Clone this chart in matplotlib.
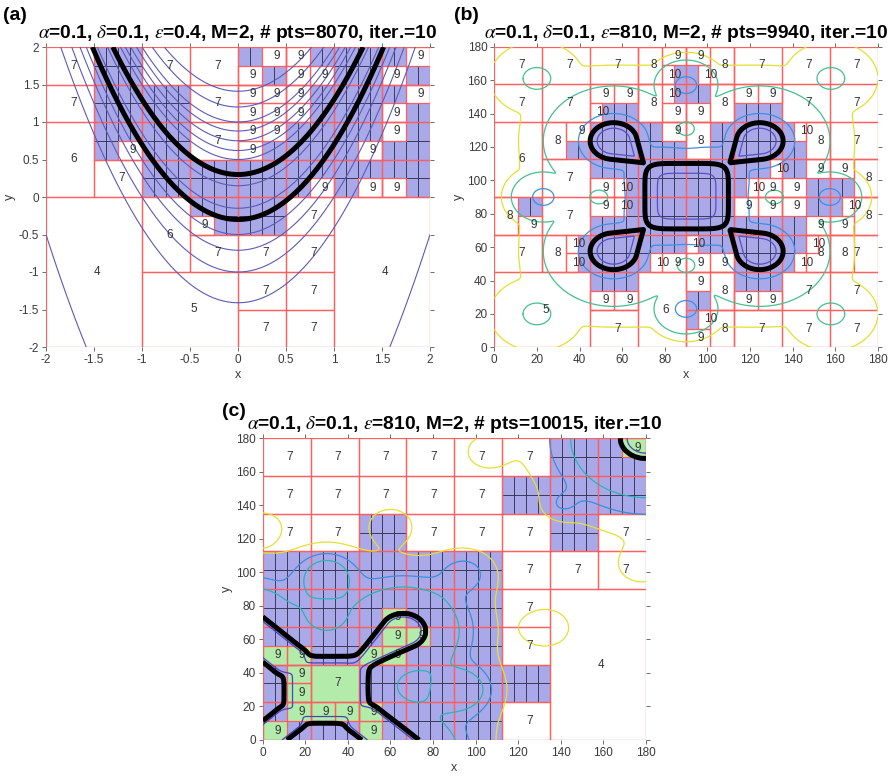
import numpy as np
import matplotlib.pyplot as plt
from matplotlib.patches import Rectangle

plt.rcParams['font.family'] = ['Liberation Sans', 'DejaVu Sans']
plt.rcParams['mathtext.fontset'] = 'stix'

# leaf maps: one char per finest cell, 16 rows (top row first) x 32 columns
# digit = white leaf of that level, '0' = white level-10 leaf,
# '#' = shaded level-10 leaf, 'G' = green level-9 leaf, 'H' = green level-7 leaf
cells_a = [
    "7777####77777777##9999########99",
    "7777####7777777799##9999####99##",
    "7777########7777999999########99",
    "7777########7777999999######99##",
    "6666########77779999########99##",
    "6666##99####777799########99####",
    "66667777########################",
    "66667777##############99##9999##",
    "444444446666########777744444444",
    "44444444666699######777744444444",
    "44444444666677777777777744444444",
    "44444444666677777777777744444444",
    "44444444555555557777777744444444",
    "44444444555555557777777744444444",
    "44444444555555557777777744444444",
    "44444444555555557777777744444444",
]
cells_b = [
    "777777777777" "88999988" "777777777777",
    "777777777777" "880##088" "777777777777",
    "77777777" "9999880###889999" "77777777",
    "77777777" "0###88999988####" "77777777",
    "6666" "8899######9988#######088" "7777",
    "6666" "88##########88########88" "7777",
    "66667777" "##############" "#0##999988",
    "66667777" "990#" "########" "#09999" "####88",
    "88##7777" "990#" "########" "999999" "###088",
    "88997777" "##################" "999988",
    "7777880#" "########" "0#######" "##0888" "7777",
    "7777880#" "#####0" "999999" "####" "#088" "7777",
    "55555555" "####" "6666" "9988" "####" "77777777",
    "55555555" "9999" "6666" "##88" "9999" "77777777",
    "55555555" "7777" "6666" "#088" "777777777777",
    "55555555" "7777" "6666" "9988" "777777777777",
]
cells_c = [
    "777777777777777777777777######GG",
    "777777777777777777777777########",
    "77777777777777777777############",
    "77777777777777777777############",
    "77777777####777777777777####7777",
    "77777777####777777777777####7777",
    "####################777777777777",
    "####################777777777777",
    "####################777744444444",
    "##########GG########777744444444",
    "##########GGGG######777744444444",
    "GGGG####GGGG########777744444444",
    "##GGHHHH################44444444",
    "##GGHHHH################44444444",
    "##GGGGGGGG##########777744444444",
    "GG######GG##########777744444444",
]

leaf_kind = {'4': (4, None), '5': (5, None), '6': (6, None), '7': (7, None),
             '8': (8, None), '9': (9, None), '0': (10, None),
             '#': (10, 'blue'), 'G': (9, 'green'), 'H': (7, 'green')}

titles = [r'$\alpha$=0.1, $\delta$=0.1, $\epsilon$=0.4, M=2, # pts=8070, iter.=10',
          r'$\alpha$=0.1, $\delta$=0.1, $\epsilon$=810, M=2, # pts=9940, iter.=10',
          r'$\alpha$=0.1, $\delta$=0.1, $\epsilon$=810, M=2, # pts=10015, iter.=10']
tags = ['(a)', '(b)', '(c)']

# panel (a): contour levels of y - x^2, black curves at +-0.3
levels_a = [-4.5, -1.41, -1.0, -0.71, -0.5, -0.15, 0.15,
            0.5, 0.62, 0.75, 0.88, 1.0, 1.2, 1.41]
black_a = [-0.3, 0.3]

# panel (b): features of the field (centre, tip) in data units
square_b = (90.3, 90.5, 19.6)
lobes_b = [(56, 123.5, 70, 110.5), (124.6, 123.5, 110.6, 110.5),
           (56, 57.5, 70, 70.5), (124.6, 57.5, 110.6, 70.5)]
lobe_r_b = 11.0
dips_b = [(23, 90), (157.5, 90), (90, 23), (90, 157)]
wells_b = [(20, 161), (158, 161), (20, 20), (158, 20)]
hills_b = [(50, 90), (130.6, 90), (90, 50), (90, 130)]
levels_b = [0.7, 1.5, 3.0, 4.0]
colors_b = ['#5a4fc0', '#3d8fe0', '#45c08e', '#e3e030']

# panel (c): square, diagonal arms (start, end, half-width), loop, corner blob
square_c = (30, 30, 20)
arms_c = [(12, 48, -8, 68, 9.5), (12, 12, -8, -8, 8), (48, 12, 68, -8, 9.5)]
loop_c = (66, 65, 35, 35, 10.5)
corner_c = (180, 180, 12)
bumps_c = [(30, 100, -0.7, 9), (95, 30, -0.7, 9), (95, 100, -0.45, 8),
           (68, 32, 0.4, 8), (30, 71, 0.4, 7), (140, 140, -0.3, 6),
           (60, 128, -0.3, 8), (106, 172, -0.3, 8), (133, 67, -0.3, 9),
           (178, 105, -0.3, 9), (0, 127, -0.3, 7)]
levels_c = [0.8, 1.6, 1.85, 2.15]
colors_c = ['#4b45b5', '#2bb3b8', '#3c8ddc', '#e6df35']

RED = '#ff5f5f'
BLUE = '#a9a9e9'
GREEN = '#b2ebaa'


def leaves(rows):
    grid = rows[::-1]
    seen, out = set(), []
    for j in range(16):
        for i in range(32):
            lvl, fill = leaf_kind[grid[j][i]]
            bw = 2 ** (5 - lvl // 2)
            bh = 2 ** (4 - (lvl - 1) // 2)
            i0, j0 = i // bw * bw, j // bh * bh
            if (i0, j0, bw, bh) in seen:
                continue
            seen.add((i0, j0, bw, bh))
            out.append((i0, j0, bw, bh, lvl, fill))
    return out


def draw_cells(ax, rows, x0, y0, size):
    dx, dy = size / 32, size / 16
    red = set()
    for i0, j0, bw, bh, lvl, fill in leaves(rows):
        rx, ry, rw, rh = x0 + i0 * dx, y0 + j0 * dy, bw * dx, bh * dy
        if fill == 'blue':
            ax.add_patch(Rectangle((rx, ry), rw, rh, facecolor=BLUE,
                                   edgecolor='#22223a', lw=0.5, zorder=1))
        else:
            if fill == 'green':
                ax.add_patch(Rectangle((rx, ry), rw, rh, facecolor=GREEN,
                                       edgecolor='none', zorder=1))
            red.add((rx, ry, rw, rh))
            ax.text(rx + rw / 2, ry + rh / 2, str(lvl), ha='left', va='center',
                    fontsize=8.5, color='#333333', zorder=4)
        if lvl >= 8:
            b7x, b7y = i0 // 4 * 4, j0 // 2 * 2
            red.add((x0 + b7x * dx, y0 + b7y * dy, 4 * dx, 2 * dy))
    for rx, ry, rw, rh in red:
        ax.add_patch(Rectangle((rx, ry), rw, rh, fill=False, edgecolor=RED,
                               lw=0.9, zorder=2))


def smin(arrs, k=0.06):
    m = np.minimum.reduce(arrs)
    return m - k * np.log(sum(np.exp(-(a - m) / k) for a in arrs))


def drop_ratio(X, Y, cx, cy, tx, ty, R):
    px, py = X - cx, Y - cy
    L = np.hypot(tx - cx, ty - cy)
    th = np.arctan2(py, px) - np.arctan2(ty - cy, tx - cx)
    th = (th + np.pi) % (2 * np.pi) - np.pi
    phi = np.arccos(R / L)
    bound = np.where(np.abs(th) < phi, R / np.cos(np.abs(th) - phi), R)
    return np.hypot(px, py) / bound


def seg_ratio(X, Y, ax0, ay0, bx, by, r):
    vx, vy = bx - ax0, by - ay0
    t = np.clip(((X - ax0) * vx + (Y - ay0) * vy) / (vx * vx + vy * vy), 0, 1)
    return np.hypot(X - ax0 - t * vx, Y - ay0 - t * vy) / r


def square_ratio(X, Y, cx, cy, hw, p=6):
    return ((np.abs(X - cx) / hw) ** p + (np.abs(Y - cy) / hw) ** p) ** (1 / p)


def style(ax, lo, hi, ticks, title):
    ax.set_xlim(lo, hi)
    ax.set_ylim(lo, hi)
    ax.set_xticks(ticks)
    ax.set_yticks(ticks)
    ax.set_xticklabels([f'{t:g}' for t in ticks])
    ax.set_yticklabels([f'{t:g}' for t in ticks])
    for s in ax.spines.values():
        s.set_visible(False)
    ax.tick_params(labelsize=8.5, labelcolor='#3a3a3a', color='#555555',
                   direction='out', length=3, width=0.6, pad=2,
                   top=True, right=True)
    ax.set_xlabel('x', fontsize=9, color='#3a3a3a', labelpad=2)
    ax.set_ylabel('y', fontsize=9, color='#3a3a3a', labelpad=2)
    ax.set_title(title, fontsize=13.8, fontweight='bold', pad=6.5)


fig = plt.figure(figsize=(8.94, 7.76), dpi=100)
ax_a = fig.add_axes([46 / 894, 1 - 347 / 776, 384 / 894, 300 / 776])
ax_b = fig.add_axes([494.3 / 894, 1 - 347.3 / 776, 383.4 / 894, 300.6 / 776])
ax_c = fig.add_axes([262.7 / 894, 1 - 740 / 776, 383.3 / 894, 301.7 / 776])

# ---- (a)
draw_cells(ax_a, cells_a, -2, -2, 4)
xa = np.linspace(-2, 2, 400)
XA, YA = np.meshgrid(xa, xa)
DA = YA - XA ** 2
ax_a.contour(XA, YA, DA, levels=levels_a, colors='#5b5bb8', linewidths=0.8,
             linestyles='solid', zorder=3)
ax_a.contour(XA, YA, DA, levels=black_a, colors='k', linewidths=3.6,
             linestyles='solid', zorder=5)
style(ax_a, -2, 2, np.arange(-2, 2.01, 0.5), titles[0])

# ---- (b)
draw_cells(ax_b, cells_b, 0, 0, 180)
xb = np.linspace(0, 180, 361)
XB, YB = np.meshgrid(xb, xb)
parts = [square_ratio(XB, YB, *square_b)]
parts += [drop_ratio(XB, YB, *lb, lobe_r_b) for lb in lobes_b]
parts += [1.2 + 0.3 * (np.hypot(XB - px, YB - py) / 5) ** 1.63 for px, py in dips_b]
parts += [2.7 + 0.3 * (np.hypot(XB - px, YB - py) / 6.5) ** 1.2 for px, py in wells_b]
FB = smin(parts)
for px, py in hills_b:
    FB = FB + 1.55 * np.exp(-((XB - px) ** 2 + (YB - py) ** 2) / 32)
ax_b.contour(XB, YB, FB, levels=levels_b, colors=colors_b, linewidths=0.9,
             linestyles='solid', zorder=3)
ax_b.contour(XB, YB, FB, levels=[1.0], colors='k', linewidths=3.6,
             linestyles='solid', zorder=5)
style(ax_b, 0, 180, np.arange(0, 181, 20), titles[1])

# ---- (c)
draw_cells(ax_c, cells_c, 0, 0, 180)
XC, YC = XB, YB
parts = [square_ratio(XC, YC, *square_c)]
parts += [seg_ratio(XC, YC, *arm) for arm in arms_c]
parts += [drop_ratio(XC, YC, *loop_c)]
ccx, ccy, cr = corner_c
parts += [1 + (np.hypot(XC - ccx, YC - ccy) - cr) / (cr * 1.3)]
EC = smin(parts, k=0.1)
EC = np.where(EC > 1, 1 + 0.4 * (EC - 1), EC)
EC = 2.3 - 0.12 * np.logaddexp(0, (2.3 - EC) / 0.12)
for px, py, amp, sig in bumps_c:
    EC = EC + amp * np.exp(-((XC - px) ** 2 + (YC - py) ** 2) / (2 * sig ** 2))
ax_c.contour(XC, YC, EC, levels=levels_c, colors=colors_c, linewidths=0.9,
             linestyles='solid', zorder=3)
ax_c.contour(XC, YC, EC, levels=[1.0], colors='k', linewidths=3.6,
             linestyles='solid', zorder=5)
style(ax_c, 0, 180, np.arange(0, 181, 20), titles[2])

fig.text(15 / 894, 1 - 15 / 776, tags[0], fontsize=14, fontweight='bold', ha='center', va='center')
fig.text(466 / 894, 1 - 15 / 776, tags[1], fontsize=14, fontweight='bold', ha='center', va='center')
fig.text(234 / 894, 1 - 411 / 776, tags[2], fontsize=14, fontweight='bold', ha='center', va='center')

fig.savefig('out.png', dpi=100)
